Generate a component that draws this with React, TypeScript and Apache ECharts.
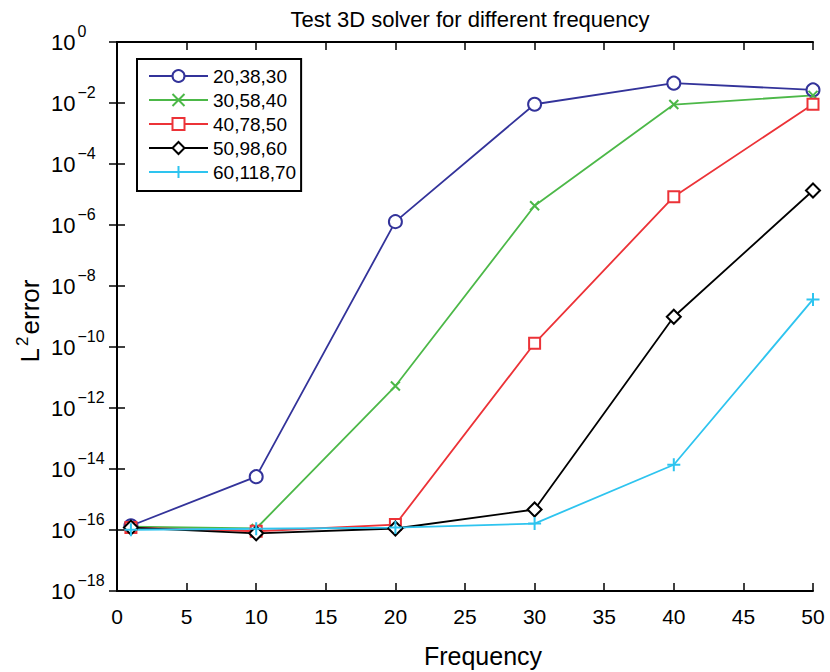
import React, { useEffect, useRef } from 'react';
import * as echarts from 'echarts';

const frequencies = [1, 10, 20, 30, 40, 50];
const seriesNames = ['20,38,30', '30,58,40', '40,78,50', '50,98,60', '60,118,70'];
const err20 = [1.38e-16, 5.6e-15, 1.29e-6, 9.1e-3, 4.47e-2, 2.69e-2];
const err30 = [1.29e-16, 1.12e-16, 5.25e-12, 4.27e-6, 8.9e-3, 1.78e-2];
const err40 = [1.2e-16, 9.1e-17, 1.51e-16, 1.32e-10, 8.5e-6, 9.1e-3];
const err50 = [1.2e-16, 7.8e-17, 1.12e-16, 4.7e-16, 9.8e-10, 1.35e-5];
const err60 = [1.02e-16, 1.1e-16, 1.2e-16, 1.62e-16, 1.38e-14, 3.63e-9];
const seriesValues = [err20, err30, err40, err50, err60];
const seriesColors = ['#33339a', '#4cb848', '#ec3237', '#000000', '#2ec4ef'];
const seriesSymbols = [
  'emptyCircle',
  'path://M0,0L10,10M10,0L0,10',
  'emptyRect',
  'emptyDiamond',
  'path://M5,0L5,10M0,5L10,5',
];
const seriesSymbolSizes = [13, 9, 11, 14, 13];

const FONT = 'Liberation Sans';

function expLabel(value: number) {
  const n = Math.round(Math.log10(value));
  const s = n < 0 ? '\u2212' + String(-n) : String(n);
  return '{b|10}{s|' + s + '}';
}

export default function App() {
  const ref = useRef<HTMLDivElement>(null);
  useEffect(() => {
    if (!ref.current) return;
    const chart = echarts.init(ref.current, null, { renderer: 'svg' });
    const axisLine = { show: true, lineStyle: { color: '#000', width: 2 } };
    const axisTick = { show: true, inside: true, length: 8, lineStyle: { color: '#000', width: 1.5 } };
    const yRich = {
      b: { fontSize: 22, lineHeight: 22, fontFamily: FONT, color: '#000', verticalAlign: 'middle' },
      s: { fontSize: 16, lineHeight: 22, fontFamily: FONT, color: '#000', verticalAlign: 'middle', padding: [0, 0, 22, 2] },
    };
    const option: any = {
      animation: false,
      backgroundColor: '#fff',
      textStyle: { fontFamily: FONT },
      grid: { left: 117, right: 17, top: 42, bottom: 81, containLabel: false },
      legend: {
        orient: 'vertical',
        left: 137,
        top: 59,
        padding: [7, 5, 9, 11],
        itemGap: 4,
        itemWidth: 59,
        itemHeight: 15,
        borderColor: '#000',
        borderWidth: 2,
        backgroundColor: '#fff',
        textStyle: { fontFamily: FONT, fontSize: 19, color: '#000', lineHeight: 20 },
        data: seriesNames,
      },
      xAxis: [
        {
          type: 'value',
          min: 0,
          max: 50,
          interval: 5,
          axisLine,
          axisTick,
          splitLine: { show: false },
          axisLabel: { fontSize: 21, color: '#000', margin: 15, fontFamily: FONT },
        },
        {
          type: 'value',
          position: 'top',
          min: 0,
          max: 50,
          interval: 5,
          axisLine,
          axisTick,
          splitLine: { show: false },
          axisLabel: { show: false },
        },
      ],
      yAxis: [
        {
          type: 'log',
          logBase: 10,
          min: 1e-18,
          max: 1,
          interval: 2,
          axisLine,
          axisTick,
          splitLine: { show: false },
          minorTick: { show: false },
          axisLabel: {
            align: 'left',
            margin: 66,
            formatter: expLabel,
            rich: yRich,
          },
        },
        {
          type: 'log',
          logBase: 10,
          position: 'right',
          min: 1e-18,
          max: 1,
          interval: 2,
          axisLine,
          axisTick,
          splitLine: { show: false },
          axisLabel: { show: false },
        },
      ],
      graphic: [
        {
          type: 'text',
          x: 470,
          y: 19,
          style: {
            text: 'Test 3D solver for different frequency',
            fontSize: 22,
            fontFamily: FONT,
            fill: '#000',
            align: 'center',
            verticalAlign: 'middle',
          },
        },
        {
          type: 'text',
          x: 483,
          y: 656,
          style: {
            text: 'Frequency',
            fontSize: 25,
            fontFamily: FONT,
            fill: '#000',
            align: 'center',
            verticalAlign: 'middle',
          },
        },
        {
          type: 'text',
          x: 30,
          y: 321,
          rotation: Math.PI / 2,
          style: {
            text: '{a|L}{s|2}{a|error}',
            align: 'center',
            verticalAlign: 'middle',
            rich: {
              a: { fontSize: 26, lineHeight: 28, fontFamily: FONT, fill: '#000', verticalAlign: 'middle' },
              s: { fontSize: 17, lineHeight: 28, fontFamily: FONT, fill: '#000', verticalAlign: 'middle', padding: [0, 2, 16, 2] },
            },
          },
        },
      ],
      series: seriesNames.map((name, i) => {
        const c = seriesColors[i];
        const isPath = seriesSymbols[i].indexOf('path://') === 0;
        return {
          name,
          type: 'line',
          xAxisIndex: 0,
          yAxisIndex: 0,
          data: frequencies.map((f, j) => [f, seriesValues[i][j]]),
          symbol: seriesSymbols[i],
          symbolSize: seriesSymbolSizes[i],
          showAllSymbol: true,
          lineStyle: { color: c, width: 1.8 },
          itemStyle: isPath
            ? { color: c, borderColor: c, borderWidth: 2 }
            : { color: c, borderColor: c, borderWidth: 1.6 },
          emphasis: { disabled: true },
        };
      }),
    };
    chart.setOption(option);
    return () => chart.dispose();
  }, []);
  return (
    <div
      ref={ref}
      style={{ position: 'absolute', left: 0, top: 0, width: 830, height: 672 }}
    />
  );
}
